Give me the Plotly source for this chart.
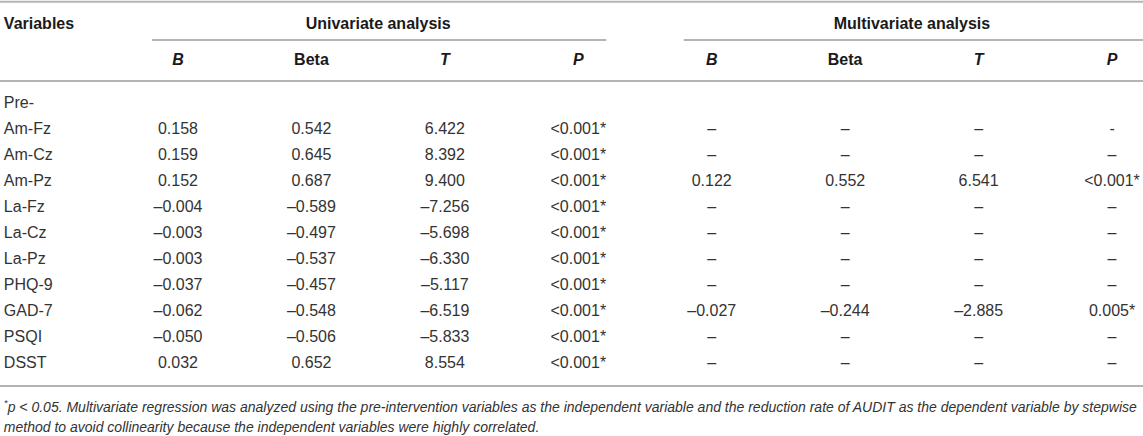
"""Regression table: univariate and multivariate analysis of pre-intervention variables."""

import plotly.graph_objects as go

# --- table data ---
variables = ["Am-Fz", "Am-Cz", "Am-Pz", "La-Fz", "La-Cz", "La-Pz",
             "PHQ-9", "GAD-7", "PSQI", "DSST"]

uni_b = [0.158, 0.159, 0.152, -0.004, -0.003, -0.003, -0.037, -0.062, -0.050, 0.032]
uni_beta = [0.542, 0.645, 0.687, -0.589, -0.497, -0.537, -0.457, -0.548, -0.506, 0.652]
uni_t = [6.422, 8.392, 9.400, -7.256, -5.698, -6.330, -5.117, -6.519, -5.833, 8.554]
uni_p = ["<0.001*", "<0.001*", "<0.001*", "<0.001*", "<0.001*",
         "<0.001*", "<0.001*", "<0.001*", "<0.001*", "<0.001*"]

multi_b = [None, None, 0.122, None, None, None, None, -0.027, None, None]
multi_beta = [None, None, 0.552, None, None, None, None, -0.244, None, None]
multi_t = [None, None, 6.541, None, None, None, None, -2.885, None, None]
multi_p = ["-", "–", "<0.001*", "–", "–", "–", "–", "0.005*", "–", "–"]

group_titles = ["Univariate analysis", "Multivariate analysis"]
sub_headers = ["B", "Beta", "T", "P"]
italic_headers = {"B", "T", "P"}

footnote_lines = [
    "<sup>*</sup>p &lt; 0.05. Multivariate regression was analyzed using the pre-intervention "
    "variables as the independent variable and the reduction rate of AUDIT as the dependent "
    "variable by stepwise",
    "method to avoid collinearity because the independent variables were highly correlated.",
]

# --- layout constants (axis units: x = column index, y = row index) ---
X_RANGE = [-0.334, 8.232]
Y_RANGE = [12.77, -4.0]
LEFT_X = -0.305
HEADER1_Y = -3.02
HEADER2_Y = -1.66
TOP_LINE_Y = -3.93
SUB_LINE_Y = -2.46
HEAD_LINE_Y = -0.885
BOTTOM_LINE_Y = 10.85
FOOT_Y = [11.72, 12.48]

FONT = "Liberation Sans, Arial, sans-serif"
BODY_COLOR = "#333333"
HEAD_COLOR = "#1a1a1a"
LINE_COLOR = "#b4b4b4"
BODY_SIZE = 16
FOOT_SIZE = 14


def fmt(v):
    if v is None:
        return "–"
    return f"{v:.3f}".replace("-", "–")


def esc(s):
    return s.replace("<", "&lt;")


fig = go.Figure()

# variable names (first column)
fig.add_trace(go.Scatter(
    x=[LEFT_X] * (len(variables) + 1),
    y=list(range(len(variables) + 1)),
    mode="text",
    text=["Pre-"] + variables,
    textposition="middle right",
    textfont=dict(family=FONT, size=BODY_SIZE, color=BODY_COLOR),
))

# data columns
columns = [
    [fmt(v) for v in uni_b],
    [fmt(v) for v in uni_beta],
    [fmt(v) for v in uni_t],
    [esc(v) for v in uni_p],
    [fmt(v) for v in multi_b],
    [fmt(v) for v in multi_beta],
    [fmt(v) for v in multi_t],
    [esc(v) for v in multi_p],
]
for ci, col in enumerate(columns, start=1):
    fig.add_trace(go.Scatter(
        x=[ci] * len(col),
        y=list(range(1, len(col) + 1)),
        mode="text",
        text=col,
        textposition="middle center",
        textfont=dict(family=FONT, size=BODY_SIZE, color=BODY_COLOR),
    ))

# header row 1
fig.add_trace(go.Scatter(
    x=[LEFT_X],
    y=[HEADER1_Y],
    mode="text",
    text=["<b>Variables</b>"],
    textposition="middle right",
    textfont=dict(family=FONT, size=BODY_SIZE, color=HEAD_COLOR),
))
fig.add_trace(go.Scatter(
    x=[2.5, 6.5],
    y=[HEADER1_Y, HEADER1_Y],
    mode="text",
    text=[f"<b>{t}</b>" for t in group_titles],
    textposition="middle center",
    textfont=dict(family=FONT, size=BODY_SIZE, color=HEAD_COLOR),
))

# header row 2
sub_text = [f"<b><i>{h}</i></b>" if h in italic_headers else f"<b>{h}</b>"
            for h in sub_headers] * 2
fig.add_trace(go.Scatter(
    x=list(range(1, 9)),
    y=[HEADER2_Y] * 8,
    mode="text",
    text=sub_text,
    textposition="middle center",
    textfont=dict(family=FONT, size=BODY_SIZE, color=HEAD_COLOR),
))

# footnote
fig.add_trace(go.Scatter(
    x=[LEFT_X] * len(footnote_lines),
    y=FOOT_Y,
    mode="text",
    text=[f"<i>{t}</i>" for t in footnote_lines],
    textposition="middle right",
    textfont=dict(family=FONT, size=FOOT_SIZE, color=BODY_COLOR),
))

# rules
line = dict(color=LINE_COLOR, width=2)
for y in (TOP_LINE_Y, HEAD_LINE_Y, BOTTOM_LINE_Y):
    fig.add_shape(type="line", xref="x", yref="y",
                  x0=X_RANGE[0], x1=X_RANGE[1], y0=y, y1=y, line=line)
fig.add_shape(type="line", xref="x", yref="y",
              x0=0.805, x1=4.21, y0=SUB_LINE_Y, y1=SUB_LINE_Y, line=line)
fig.add_shape(type="line", xref="x", yref="y",
              x0=4.79, x1=X_RANGE[1], y0=SUB_LINE_Y, y1=SUB_LINE_Y, line=line)

fig.update_layout(
    width=1143,
    height=436,
    margin=dict(l=0, r=0, t=0, b=0),
    paper_bgcolor="white",
    plot_bgcolor="white",
    showlegend=False,
    hovermode=False,
    xaxis=dict(range=X_RANGE, visible=False, fixedrange=True),
    yaxis=dict(range=Y_RANGE, visible=False, fixedrange=True),
)

# drop the browser's default body margin so the table fills the window
fig.write_html("out.html", config={"displayModeBar": False},
               post_script="document.body.style.margin='0px';")
